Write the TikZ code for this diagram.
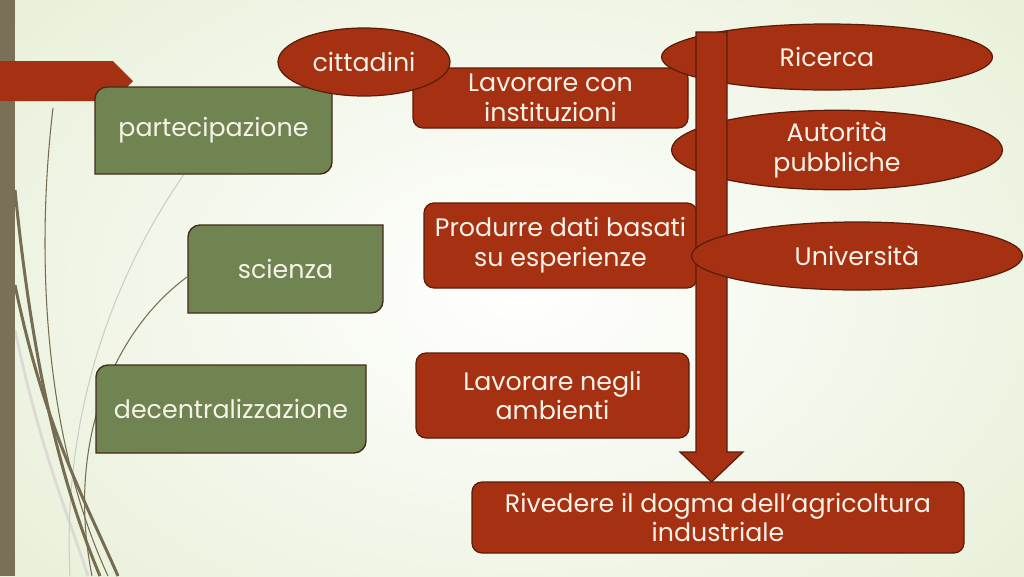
\documentclass[tikz,border=0pt]{standalone}
\usepackage{fontspec}
\setmainfont{Poppins}
\usetikzlibrary{shapes.geometric}
\definecolor{redf}{RGB}{166,49,18}
\definecolor{redd}{RGB}{90,28,10}
\definecolor{greenf}{RGB}{112,132,82}
\definecolor{greend}{RGB}{70,42,24}
\definecolor{txt}{RGB}{246,242,232}
\definecolor{barc}{RGB}{122,112,88}
\definecolor{bgout}{RGB}{214,228,186}
\definecolor{linec}{RGB}{118,108,82}
\pgfdeclarelayer{back}
\pgfdeclarelayer{deco}
\pgfdeclarelayer{boxes}
\pgfsetlayers{back,deco,boxes,main}
% green box with rounded top-left and bottom-right corners: x1,y1,x2,y2,r
\newcommand\greenshape[5]{%
  \path[gshape] (#1,#4) -- (#1,#2+#5)
    .. controls (#1,#2+0.45*#5) and (#1+0.45*#5,#2) .. (#1+#5,#2)
    -- (#3,#2) -- (#3,#4-#5)
    .. controls (#3,#4-0.45*#5) and (#3-0.45*#5,#4) .. (#3-#5,#4)
    -- cycle;}
\begin{document}
\begin{tikzpicture}[x=0.02cm,y=-0.02cm,
  lbl/.style={text=txt, font=\fontsize{14.4}{17}\selectfont, align=center, inner sep=0pt},
  redbox/.style={lbl, draw=redd, fill=redf, line width=0.7pt, rounded corners=0.2cm},
  redell/.style={lbl, ellipse, draw=redd, fill=redf, line width=0.7pt},
  gshape/.style={draw=greend, fill=greenf, line width=0.8pt},
  decothick/.style={draw=linec, line width=1.7pt},
  decothin/.style={draw=linec, line width=0.6pt},
  decolight/.style={draw=linec!35, line width=0.6pt}]
\useasboundingbox (0,0) rectangle (1024,576);
% background
\begin{pgfonlayer}{back}
  \begin{scope}
    \clip (0,0) rectangle (1024,576);
    \shade[inner color=white, outer color=bgout] (520-1200,290-800) rectangle (520+1200,290+800);
  \end{scope}
\end{pgfonlayer}
% decorative curves, side bar, tab
\begin{pgfonlayer}{deco}
  \draw[decolight, line width=1.6pt, draw=linec!25] (15,330) .. controls (40,450) and (70,520) .. (88,576);
  \draw[decolight] (185,173) .. controls (110,280) and (62,420) .. (70,576);
  \draw[decothin] (53,108) .. controls (35,260) and (45,440) .. (108,576);
  \draw[decothin] (187,277) .. controls (115,330) and (65,440) .. (92,576);
  \draw[decothick] (15,190) .. controls (30,340) and (55,470) .. (100,576);
  \draw[decothick] (15,285) .. controls (45,430) and (85,500) .. (118,576);
  \fill[barc] (0,0) rectangle (15,576);
  \fill[redf] (0,61) -- (113,61) -- (133,81) -- (113,101) -- (0,101) -- cycle;
\end{pgfonlayer}
% green boxes
\begin{pgfonlayer}{boxes}
  \greenshape{95}{87}{332}{174}{12}
  \greenshape{188}{225}{383}{313}{12}
  \greenshape{96}{365}{366}{453}{12}
\end{pgfonlayer}
\node[lbl] (part) at (213.5,130.5) {partecipazione};
\node[lbl] (sci) at (285.5,269) {scienza};
\node[lbl] (dec) at (231,409) {decentralizzazione};
% red boxes and ellipses
\node[redbox, minimum width=275*0.02cm, minimum height=60*0.02cm] (lav1) at (550.5,98) {Lavorare con\\instituzioni};
\node[redell, minimum width=172*0.02cm, minimum height=68*0.02cm] (cit) at (364,62) {cittadini};
\node[redell, minimum width=331*0.02cm, minimum height=66*0.02cm] (ric) at (827,57) {Ricerca};
\node[redell, minimum width=331*0.02cm, minimum height=65*0.02cm] (aut) at (837,150) {Autorità\\pubbliche};
\node[redbox, minimum width=273*0.02cm, minimum height=85*0.02cm] (prod) at (560.5,245.5) {Produrre dati basati\\su esperienze};
\node[redbox, minimum width=273*0.02cm, minimum height=85*0.02cm] (amb) at (552.5,395.5) {Lavorare negli\\ambienti};
% big arrow
\coordinate (atop) at (711.5,32);
\coordinate (atip) at (711.5,482);
\path[fill=redf, draw=redd, line width=0.7pt]
  (696,32) -- (727,32) -- (727,452) -- (743,452) -- (atip) -- (680,452) -- (696,452) -- cycle;
\node[redell, minimum width=331*0.02cm, minimum height=68*0.02cm] (univ) at (857,256) {Università};
\node[redbox, minimum width=492*0.02cm, minimum height=71*0.02cm] (riv) at (718,517.5) {Rivedere il dogma dell’agricoltura\\industriale};
\end{tikzpicture}
\end{document}
